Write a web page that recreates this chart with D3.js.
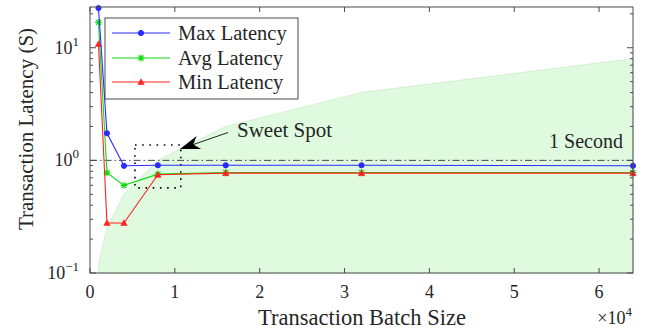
<!DOCTYPE html>
<html><head><meta charset="utf-8">
<script src="https://cdn.jsdelivr.net/npm/d3@7"></script>
<style>
body{margin:0;background:#fff;}
</style></head>
<body><svg id="c" width="647" height="331"></svg>
<script>
// ---- data ----
const batchSizes = [1000, 2000, 4000, 8000, 16000, 32000, 64000];
const maxLatency = [22.5, 1.74, 0.895, 0.905, 0.905, 0.905, 0.895];
const avgLatency = [16.8, 0.776, 0.60, 0.755, 0.78, 0.78, 0.78];
const minLatency = [10.8, 0.278, 0.278, 0.745, 0.77, 0.77, 0.77];
const throughputBound = [0.12, 0.25, 0.5, 1.0, 2.0, 4.0, 8.0];
const xTicks = [0, 10000, 20000, 30000, 40000, 50000, 60000];
const xTickLabels = ["0", "1", "2", "3", "4", "5", "6"];
const yMajor = [0.1, 1, 10];
const yMajorExp = ["\u22121", "0", "1"];
const seriesNames = ["Max Latency", "Avg Latency", "Min Latency"];
const sweetSpotBox = {x0: 5300, x1: 10700, y0: 0.57, y1: 1.37};

const FONT = "Liberation Serif";
const svg = d3.select("#c");
const L = 90, R = 633, T = 7, B = 273;
const x = d3.scaleLinear().domain([0, 64000]).range([L, R]);
const y = d3.scaleLog().domain([0.1, 23]).range([B, T]);
const axisCol = "#4a4a4a";
const txtCol = "#262626";

function txt(sel, s, size) {
  return sel.append("text").attr("font-family", FONT).attr("fill", txtCol).attr("font-size", size).text(s);
}

// fill area
const area = d3.area().x((d, i) => x(batchSizes[i])).y0(y(0.1)).y1(d => y(d));
svg.append("path").datum(throughputBound).attr("d", area)
  .attr("fill", "#e0fae0").attr("stroke", "#cdeccd").attr("stroke-width", 0.8);

// 1 second line
svg.append("line").attr("x1", L).attr("x2", R).attr("y1", y(1)).attr("y2", y(1))
  .attr("stroke", "#333").attr("stroke-width", 0.9).attr("stroke-dasharray", "7,3,1.5,3");
txt(svg, "1 Second", 20).attr("x", 623).attr("y", y(1) - 12).attr("text-anchor", "end");

// sweet spot dotted box
svg.append("rect").attr("x", x(sweetSpotBox.x0)).attr("y", y(sweetSpotBox.y1))
  .attr("width", x(sweetSpotBox.x1) - x(sweetSpotBox.x0))
  .attr("height", y(sweetSpotBox.y0) - y(sweetSpotBox.y1))
  .attr("fill", "none").attr("stroke", "#000").attr("stroke-width", 1.6)
  .attr("stroke-dasharray", "1.6,5.6").attr("stroke-linecap", "butt");

// arrow
const ax0 = 228, ay0 = 132.5, ax1 = 180, ay1 = 149;
svg.append("line").attr("x1", ax0).attr("y1", ay0).attr("x2", ax1 + 12).attr("y2", ay1 - 4)
  .attr("stroke", "#222").attr("stroke-width", 1);
(function(){
  const ang = Math.atan2(ay1 - ay0, ax1 - ax0);
  const len = 20, half = 7, back = 14;
  const bx = ax1 - len * Math.cos(ang), by = ay1 - len * Math.sin(ang);
  const nx = -Math.sin(ang), ny = Math.cos(ang);
  const mx = ax1 - back * Math.cos(ang), my = ay1 - back * Math.sin(ang);
  const p = [[ax1, ay1], [bx + nx * half, by + ny * half], [mx, my], [bx - nx * half, by - ny * half]];
  svg.append("path").attr("d", "M" + p.map(q => q.join(",")).join("L") + "Z").attr("fill", "#000");
})();
txt(svg, "Sweet Spot", 21).attr("x", 237).attr("y", 137);

// series
const colors = ["#2b2bff", "#11dd11", "#ff2222"];
const data = [maxLatency, avgLatency, minLatency];
const line = d3.line().x((d, i) => x(batchSizes[i])).y(d => y(d));
function marker(g, kind, cx, cy, col) {
  if (kind === 0) g.append("circle").attr("cx", cx).attr("cy", cy).attr("r", 2.6).attr("fill", col).attr("stroke", col);
  else if (kind === 1) {
    const s = 3.4;
    g.append("path").attr("d", `M${cx-s},${cy}L${cx+s},${cy}M${cx},${cy-s}L${cx},${cy+s}M${cx-s*0.75},${cy-s*0.75}L${cx+s*0.75},${cy+s*0.75}M${cx-s*0.75},${cy+s*0.75}L${cx+s*0.75},${cy-s*0.75}`)
      .attr("stroke", col).attr("stroke-width", 1.2);
  } else {
    const s = 3.2;
    g.append("path").attr("d", `M${cx},${cy-s}L${cx+s},${cy+s*0.8}L${cx-s},${cy+s*0.8}Z`).attr("fill", col).attr("stroke", col).attr("stroke-width", 0.6);
  }
}
const order = [1, 2, 0];
order.forEach(k => {
  const g = svg.append("g");
  g.append("path").datum(data[k]).attr("d", line).attr("fill", "none").attr("stroke", colors[k]).attr("stroke-width", 1.1);
  data[k].forEach((v, i) => marker(g, k, x(batchSizes[i]), y(v), colors[k]));
});

// axes box
svg.append("rect").attr("x", L).attr("y", T).attr("width", R - L).attr("height", B - T)
  .attr("fill", "none").attr("stroke", axisCol).attr("stroke-width", 1);

// x ticks
const gx = svg.append("g");
xTicks.forEach((t, i) => {
  gx.append("line").attr("x1", x(t)).attr("x2", x(t)).attr("y1", B).attr("y2", B - 5).attr("stroke", axisCol);
  gx.append("line").attr("x1", x(t)).attr("x2", x(t)).attr("y1", T).attr("y2", T + 5).attr("stroke", axisCol);
  txt(gx, xTickLabels[i], 18).attr("x", x(t)).attr("y", 298).attr("text-anchor", "middle");
});
txt(svg, "Transaction Batch Size", 22.5).attr("x", 362).attr("y", 325).attr("text-anchor", "middle");
const xm = txt(svg, "", 18).attr("x", 632).attr("y", 324).attr("text-anchor", "end");
xm.append("tspan").text("\u00d710");
xm.append("tspan").attr("dy", -8).attr("font-size", 13).text("4");

// y ticks
const gy = svg.append("g");
const minors = [];
[0.1, 1, 10].forEach(d => { for (let m = 2; m <= 9; m++) { const v = d * m; if (v <= 23) minors.push(v); } });
minors.forEach(v => {
  gy.append("line").attr("x1", L).attr("x2", L + 3).attr("y1", y(v)).attr("y2", y(v)).attr("stroke", axisCol);
  gy.append("line").attr("x1", R).attr("x2", R - 3).attr("y1", y(v)).attr("y2", y(v)).attr("stroke", axisCol);
});
yMajor.forEach((v, i) => {
  gy.append("line").attr("x1", L).attr("x2", L + 6).attr("y1", y(v)).attr("y2", y(v)).attr("stroke", axisCol);
  gy.append("line").attr("x1", R).attr("x2", R - 6).attr("y1", y(v)).attr("y2", y(v)).attr("stroke", axisCol);
  const t = txt(gy, "", 18).attr("x", 79).attr("y", y(v) + 6).attr("text-anchor", "end");
  t.append("tspan").text("10");
  t.append("tspan").attr("dy", -8).attr("font-size", 13).text(yMajorExp[i]);
});
txt(svg, "Transaction Latency (S)", 21).attr("transform", "translate(33,129) rotate(-90)").attr("text-anchor", "middle");

// legend
const lg = svg.append("g");
lg.append("rect").attr("x", 105).attr("y", 18).attr("width", 193).attr("height", 81)
  .attr("fill", "#fff").attr("stroke", axisCol).attr("stroke-width", 1);
[33, 58, 82].forEach((ly, k) => {
  lg.append("line").attr("x1", 112).attr("x2", 170).attr("y1", ly).attr("y2", ly).attr("stroke", colors[k]).attr("stroke-width", 1.1);
  marker(lg, k, 141, ly, colors[k]);
  txt(lg, seriesNames[k], 20.5).attr("x", 178).attr("y", ly + 6.5);
});
</script></body></html>
